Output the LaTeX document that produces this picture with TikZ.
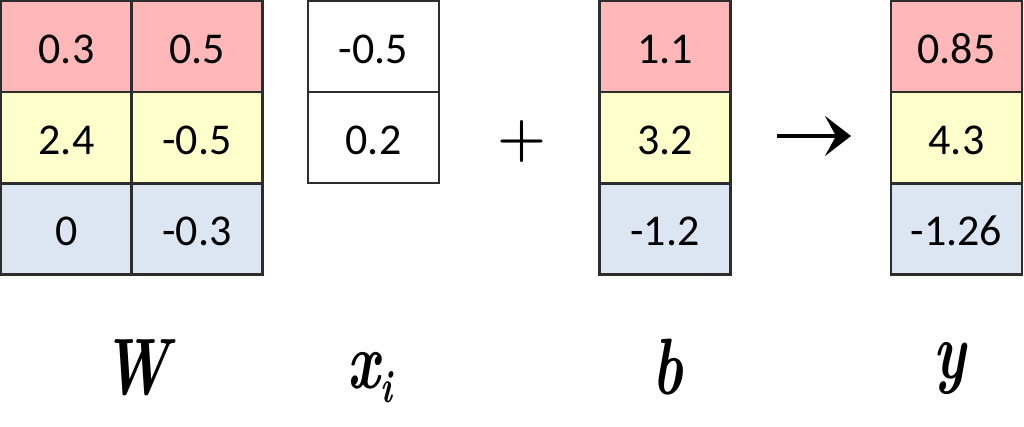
\documentclass[tikz,border=0pt]{standalone}
\usepackage{fontspec}
\newfontfamily\cellfont{Carlito}
\usetikzlibrary{arrows.meta}
\definecolor{cpink}{RGB}{255,183,183}
\definecolor{cyel}{RGB}{255,255,204}
\definecolor{cblue}{RGB}{220,230,242}
\definecolor{cline}{RGB}{45,45,45}
\tikzset{
  cell/.style={draw=cline, line width=2.2pt, minimum width=131pt, minimum height=91pt,
    inner sep=0pt, text height=34pt, text depth=0pt,
    font=\cellfont\fontsize{44}{50}\selectfont},
  pk/.style={cell, fill=cpink},
  yl/.style={cell, fill=cyel},
  bl/.style={cell, fill=cblue},
  wt/.style={cell, fill=white},
  lab/.style={anchor=base, inner sep=0pt, font=\bfseries\itshape\fontsize{80}{90}\selectfont},
}
\newcommand{\nrw}[1]{\scalebox{0.72}[1]{#1}}
\begin{document}
\begin{tikzpicture}[x=1pt, y=-1pt]
\useasboundingbox[fill=white] (0,0) rectangle (1024,427);
% W
\node[pk] (w11) at (66.5,46.5) {0.3};
\node[pk] (w12) at (197,46.5) {0.5};
\node[yl] (w21) at (66.5,137.5) {2.4};
\node[yl] (w22) at (197,137.5) {-0.5};
\node[bl] (w31) at (66.5,229) {0};
\node[bl] (w32) at (197,229) {-0.3};
% x_i
\node[wt] (x1) at (373.5,46.5) {-0.5};
\node[wt] (x2) at (373.5,137.5) {0.2};
% plus
\node[inner sep=0pt, font=\bfseries\fontsize{56}{70}\selectfont] (plus) at (522,142) {+};
% b
\node[pk] (b1) at (665,46.5) {1.1};
\node[yl] (b2) at (665,137.5) {3.2};
\node[bl] (b3) at (665,229) {-1.2};
% arrow
\coordinate (a1) at (777,136);
\coordinate (a2) at (851,136);
\draw[line width=3.6pt, -{Stealth[length=26pt, width=40pt, inset=11pt]}] (a1) -- (a2);
% y
\node[pk] (y1) at (956.5,46.5) {0.85};
\node[yl] (y2) at (956.5,137.5) {4.3};
\node[bl] (y3) at (956.5,229) {-1.26};
% labels
\node[lab] (lw) at (136,394) {\nrw{W}};
\node[lab] (lx) at (370,388) {\nrw{x}\raisebox{-14pt}{\fontsize{46}{50}\selectfont\nrw{i}}};
\node[lab] (lb) at (668,394) {\nrw{b}};
\node[lab] (ly) at (950,378) {\nrw{y}};
\end{tikzpicture}
\end{document}
